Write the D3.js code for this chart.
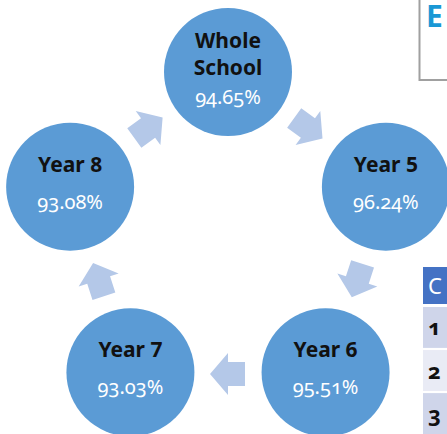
<!DOCTYPE html>
<html>
<head>
<meta charset="utf-8">
<script src="https://cdn.jsdelivr.net/npm/d3@7"></script>
<style>
  html, body { margin: 0; padding: 0; background: #fff; }
  svg { display: block; font-family: "Noto Sans", "Open Sans", sans-serif; }
  .name { font-weight: bold; fill: #111; font-size: 21px; }
  .pct { fill: #fff; font-size: 20px; font-variant-numeric: oldstyle-nums; }
  .num { font-weight: bold; fill: #111; font-size: 22px; font-variant-numeric: oldstyle-nums; }
</style>
</head>
<body>
<script>
// Attendance cycle, clockwise from the top
const groups = ["Whole School", "Year 5", "Year 6", "Year 7", "Year 8"];
const attendance = [94.65, 96.24, 95.51, 93.03, 93.08];

// bits of the neighbouring table / title box that peek in at the right edge
const tableHeader = ["C"];
const tableRows = ["1", "2", "3"];
const titleLetter = ["E"];

const width = 447;
const height = 434;
const centre = { x: 228, y: 238 };
const ringRadius = 166;   // where the circles sit
const arrowRadius = 136;  // where the arrows sit
const bubbleR = 64;

const svg = d3.select("body").append("svg")
  .attr("width", width)
  .attr("height", height);

// index -> angle in degrees, starting at the top and going clockwise
const angle = d3.scaleLinear()
  .domain([0, groups.length])
  .range([-90, 270]);

const toXY = (deg, r) => {
  const a = deg * Math.PI / 180;
  return [centre.x + r * Math.cos(a), centre.y + r * Math.sin(a)];
};

// Arrows between neighbouring circles
const arrowPath = "M-17,-12 L0,-12 L0,-21 L18,0 L0,21 L0,12 L-17,12 Z";
svg.append("g").attr("class", "arrows")
  .selectAll("path")
  .data(groups)
  .enter()
  .append("path")
  .attr("d", arrowPath)
  .attr("fill", "#b4c8e8")
  .attr("transform", (d, i) => {
    const deg = angle(i + 0.5);
    const [x, y] = toXY(deg, arrowRadius);
    return `translate(${x},${y}) rotate(${deg + 90})`;
  });

// Circles with name and attendance
const bubble = svg.append("g").attr("class", "bubbles")
  .selectAll("g")
  .data(groups)
  .enter()
  .append("g")
  .attr("transform", (d, i) => {
    const [x, y] = toXY(angle(i), ringRadius);
    return `translate(${x},${y})`;
  });

bubble.append("circle")
  .attr("r", bubbleR)
  .attr("fill", "#5b9bd5");

bubble.each(function (d, i) {
  const g = d3.select(this);
  const words = d === "Whole School" ? d.split(" ") : [d];
  // two-line label pushes everything up a bit
  const top = words.length > 1 ? -24 : -15;
  words.forEach((w, k) => {
    g.append("text")
      .attr("class", "name")
      .attr("text-anchor", "middle")
      .attr("y", top + k * 27)
      .text(w);
  });
  g.append("text")
    .attr("class", "pct")
    .attr("text-anchor", "middle")
    .attr("y", words.length > 1 ? 32 : 22)
    .text(attendance[i].toFixed(2) + "%");
});

// Title box cut off at the top right
svg.append("rect")
  .attr("x", 419.5).attr("y", -5)
  .attr("width", 40).attr("height", 85)
  .attr("fill", "#fff")
  .attr("stroke", "#a0a0a0")
  .attr("stroke-width", 2);
svg.append("text")
  .attr("x", 426).attr("y", 27)
  .attr("font-size", 30).attr("font-weight", "bold")
  .attr("fill", "#1a98d5")
  .text(titleLetter[0]);

// Table cut off at the bottom right
const rowY = d3.scaleBand()
  .domain(tableRows)
  .range([307, 434])
  .paddingInner(0.05);

svg.append("rect")
  .attr("x", 423).attr("y", 267)
  .attr("width", 30).attr("height", 37)
  .attr("fill", "#4472c4");
svg.append("text")
  .attr("x", 428).attr("y", 294)
  .attr("font-size", 22)
  .attr("fill", "#fff")
  .text(tableHeader[0]);

svg.append("g").selectAll("rect")
  .data(tableRows)
  .enter()
  .append("rect")
  .attr("x", 423)
  .attr("y", (d) => rowY(d))
  .attr("width", 30)
  .attr("height", rowY.bandwidth())
  .attr("fill", (d, i) => (i % 2 === 0 ? "#cfd5ea" : "#e9ebf5"));

svg.append("g").selectAll("text")
  .data(tableRows)
  .enter()
  .append("text")
  .attr("class", "num")
  .attr("x", 428)
  .attr("y", (d) => rowY(d) + rowY.bandwidth() / 2 + 8)
  .text((d) => d);
</script>
</body>
</html>
